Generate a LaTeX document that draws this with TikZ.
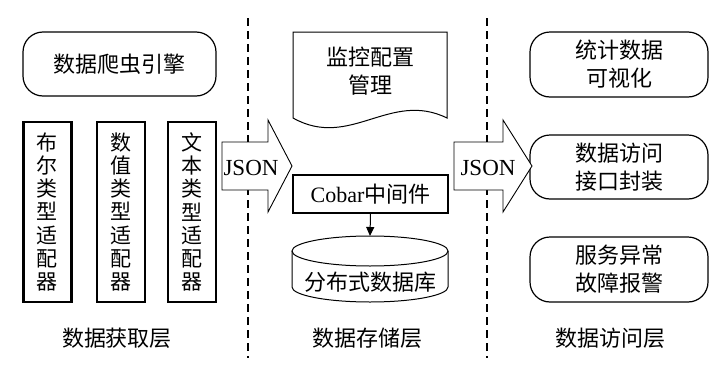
\documentclass[tikz,border=0pt]{standalone}
\usepackage{fontspec}
\setmainfont{Liberation Serif}
\newfontfamily\cjk{Noto Sans CJK SC}
\usetikzlibrary{positioning, arrows.meta, shapes.geometric, calc}

\begin{document}
\begin{tikzpicture}[
    x=1pt, y=-1pt,
    every node/.style={font=\cjk\fontsize{22}{28}\selectfont},
    softbox/.style={rectangle, rounded corners=20pt, draw=black, line width=1.2pt, align=center, inner sep=0pt},
    adapter/.style={rectangle, draw=black, line width=2.2pt, minimum width=48pt, minimum height=180pt, align=center, inner sep=0pt, font=\cjk\fontsize{21}{23.3}\selectfont},
    middleware/.style={rectangle, draw=black, line width=2pt, minimum width=155pt, minimum height=38pt, inner sep=0pt},
    layer/.style={font=\cjk\fontsize{22}{28}\selectfont},
    divider/.style={dash pattern=on 8pt off 5pt, line width=1.3pt},
    bigarrow/.style={draw=black, fill=white, line width=0.9pt},
    jsontext/.style={font=\rmfamily\fontsize{23}{26}\selectfont}
]
\useasboundingbox (0,0) rectangle (716,370);

% Dividers
\draw[divider] (248,18) -- (248,358);
\draw[divider] (487,18) -- (487,358);

% Data acquisition layer
\node[softbox, minimum width=193pt, minimum height=64pt] (crawler) at (119.5,64) {数据爬虫引擎};
\node[adapter] (bool) at (47.5,212) {布\\尔\\类\\型\\适\\配\\器};
\node[adapter] (number) at (121,212) {数\\值\\类\\型\\适\\配\\器};
\node[adapter] (text) at (192,212) {文\\本\\类\\型\\适\\配\\器};
\node[layer] (getlayer) at (117,338) {数据获取层};

% Data storage layer
\draw[line width=1pt] (293,32) -- (447,32) -- (447,118)
    .. controls (390,90) and (350,150) .. (293,118) -- cycle;
\node[align=center] (monitor) at (370,71) {监控配置\\管理};
\node[middleware] (cobar) at (370.5,194) {{\rmfamily Cobar}中间件};
% database cylinder
\draw[line width=1pt] (370,251) ellipse [x radius=78pt, y radius=15pt];
\draw[line width=1pt] (292,251) -- (292,287) arc[start angle=180, end angle=360, x radius=78pt, y radius=15pt] -- (448,251);
\coordinate (dbtop) at (370,236);
\node (db) at (370,282) {分布式数据库};
\draw[-{Triangle[length=9pt,width=8pt]}, line width=1pt] (cobar.south) -- (dbtop);
\node[layer] (storelayer) at (367,338) {数据存储层};

% Data access layer
\node[softbox, minimum width=178pt, minimum height=65pt] (visual) at (619,64.5) {统计数据\\可视化};
\node[softbox, minimum width=178pt, minimum height=64pt] (api) at (619,167) {数据访问\\接口封装};
\node[softbox, minimum width=178pt, minimum height=65pt] (alarm) at (619,269.5) {服务异常\\故障报警};
\node[layer] (accesslayer) at (610,338) {数据访问层};

% JSON arrows
\draw[bigarrow] (222,142) -- (268,142) -- (268,120) -- (292,166) -- (268,212) -- (268,190) -- (222,190) -- cycle;
\node[jsontext] (json1) at (251,168) {JSON};
\draw[bigarrow] (454,142) -- (503,142) -- (503,120) -- (532,166) -- (503,212) -- (503,190) -- (454,190) -- cycle;
\node[jsontext] (json2) at (488,168) {JSON};

\end{tikzpicture}
\end{document}
